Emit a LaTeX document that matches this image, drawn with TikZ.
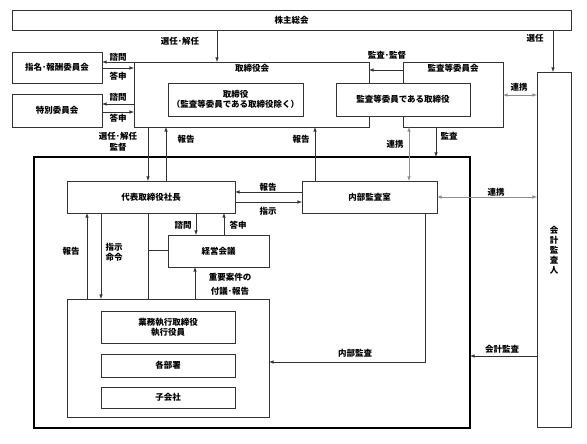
\documentclass[tikz,border=0pt]{standalone}
\usepackage{fontspec}
\setmainfont{Noto Sans CJK JP}
\usetikzlibrary{arrows}

\tikzset{
	box/.style={draw=black!80, line width=0.6pt, inner sep=0pt, outer sep=0pt, fill=white, align=center},
	txt/.style={inner sep=0pt, align=center},
	arr/.style={draw=black!80, line width=0.6pt, -latex},
	link/.style={draw=black!45, line width=0.6pt, latex-latex},
}

\begin{document}
\begin{tikzpicture}[x=1pt, y=-1pt, font=\fontsize{8.5pt}{10pt}\selectfont\bfseries]
		\useasboundingbox (0,0) rectangle (587,444);
		
		\node[box, minimum width=559, minimum height=20] (gm) at (291.5,20) {株主総会};
		
		\node[box, minimum width=235, minimum height=65] (board) at (251.5,94.5) {};
		\node[box, minimum width=100, minimum height=65] (ac) at (453,94.5) {};
		\node[txt] (boardt) at (252,68) {取締役会};
		\node[txt] (act) at (453,68) {監査等委員会};
		\node[box, minimum width=135, minimum height=33] (dir) at (235.5,99.5) {取締役\\（監査等委員である取締役除く）};
		\node[box, minimum width=134, minimum height=33] (acd) at (403,99.5) {監査等委員である取締役};
		
		\node[box, minimum width=90, minimum height=31] (nrc) at (57,67.5) {指名･報酬委員会};
		\node[box, minimum width=90, minimum height=33] (sc) at (57,110.5) {特別委員会};
		
		\node[box, minimum width=34, minimum height=355] (aud) at (554,249.5) {};
		\node[txt] (audt) at (554,250) {会\\計\\監\\査\\人};
		
		\node[box, fill=none, line width=1.6pt, draw=black, minimum width=436, minimum height=271] (grp) at (252,292.5) {};
		
		\node[box, minimum width=168, minimum height=32] (pres) at (151,197) {代表取締役社長};
		\node[box, minimum width=135, minimum height=32] (ia) at (369.5,197) {内部監査室};
		\node[box, minimum width=101, minimum height=32] (mc) at (218.5,251) {経営会議};
		
		\node[box, minimum width=202, minimum height=118] (biz) at (168,358) {};
		\node[box, minimum width=134, minimum height=32] (exec) at (168,327) {業務執行取締役\\執行役員};
		\node[box, minimum width=134, minimum height=23] (dept) at (168,365.5) {各部署};
		\node[box, minimum width=134, minimum height=21] (sub) at (168,397.5) {子会社};
		
		% 株主総会
		\draw[arr] (217,0 |- gm.south) -- (217,0 |- board.north);
		\node[txt] (l1) at (180,41) {選任･解任};
		\draw[arr] (553,0 |- gm.south) -- (553,0 |- aud.north);
		\node[txt] (l2) at (535,38) {選任};
		
		% 委員会
		\draw[arr] (board.west |- 0,62) -- (nrc.east |- 0,62);
		\draw[arr] (nrc.east |- 0,68) -- (board.west |- 0,68);
		\node[txt] (l3) at (118,57) {諮問};
		\node[txt] (l4) at (118,76) {答申};
		\draw[arr] (board.west |- 0,104) -- (sc.east |- 0,104);
		\draw[arr] (sc.east |- 0,112) -- (board.west |- 0,112);
		\node[txt] (l5) at (118,97) {諮問};
		\node[txt] (l6) at (118,118) {答申};
		
		\draw[arr] (ac.west |- 0,70) -- (board.east |- 0,70);
		\node[txt] (l7) at (387,55) {監査･監督};
		\draw[link] (ac.east |- 0,95) -- (aud.west |- 0,95);
		\node[txt] (l8) at (519,87) {連携};
		
		% 取締役会と執行
		\draw[arr] (148,0 |- board.south) -- (148,0 |- pres.north);
		\node[txt] (l9) at (118,142) {選任･解任\\[1pt]監督};
		\draw[arr] (166,0 |- pres.north) -- (166,0 |- board.south);
		\node[txt] (l10) at (186,139) {報告};
		\draw[arr] (315,0 |- ia.north) -- (315,0 |- board.south);
		\node[txt] (l11) at (301,139) {報告};
		\draw[link] (409,0 |- ac.south) -- (409,0 |- ia.north);
		\node[txt] (l12) at (395,144) {連携};
		\draw[arr] (436,0 |- ac.south) -- (436,0 |- grp.north);
		\node[txt] (l13) at (449,136) {監査};
		
		\draw[arr] (ia.west |- 0,192) -- (pres.east |- 0,192);
		\draw[arr] (pres.east |- 0,202) -- (ia.west |- 0,202);
		\node[txt] (l14) at (268,187) {報告};
		\node[txt] (l15) at (268,211) {指示};
		\draw[link] (ia.east |- 0,197) -- (aud.west |- 0,197);
		\node[txt] (l16) at (496,192) {連携};
		
		\draw[arr] (425,0 |- ia.south) |- (biz.east |- 0,362);
		\node[txt] (l17) at (355,353) {内部監査};
		\draw[arr] (aud.west |- 0,356) -- (grp.east |- 0,356);
		\node[txt] (l18) at (502,349) {会計監査};
		
		% 経営会議
		\draw[arr] (196,0 |- pres.south) -- (196,0 |- mc.north);
		\draw[arr] (224,0 |- mc.north) -- (224,0 |- pres.south);
		\node[txt] (l19) at (183,225) {諮問};
		\node[txt] (l20) at (238,225) {答申};
		\draw[draw=black!80, line width=0.6pt] (148,0 |- pres.south) -- (148,0 |- biz.north);
		\draw[draw=black!80, line width=0.6pt] (148,250) -- (mc.west |- 0,250);
		
		\draw[arr] (87,0 |- biz.north) -- (87,0 |- pres.south);
		\node[txt] (l21) at (71,251) {報告};
		\draw[arr] (101,0 |- pres.south) -- (101,0 |- biz.north);
		\node[txt] (l22) at (114,252) {指示\\命令};
		\draw[arr] (195,0 |- biz.north) -- (195,0 |- mc.south);
		\node[txt] (l23) at (230,284) {重要案件の\\[4pt]付議･報告};
		
	\end{tikzpicture}
\end{document}
